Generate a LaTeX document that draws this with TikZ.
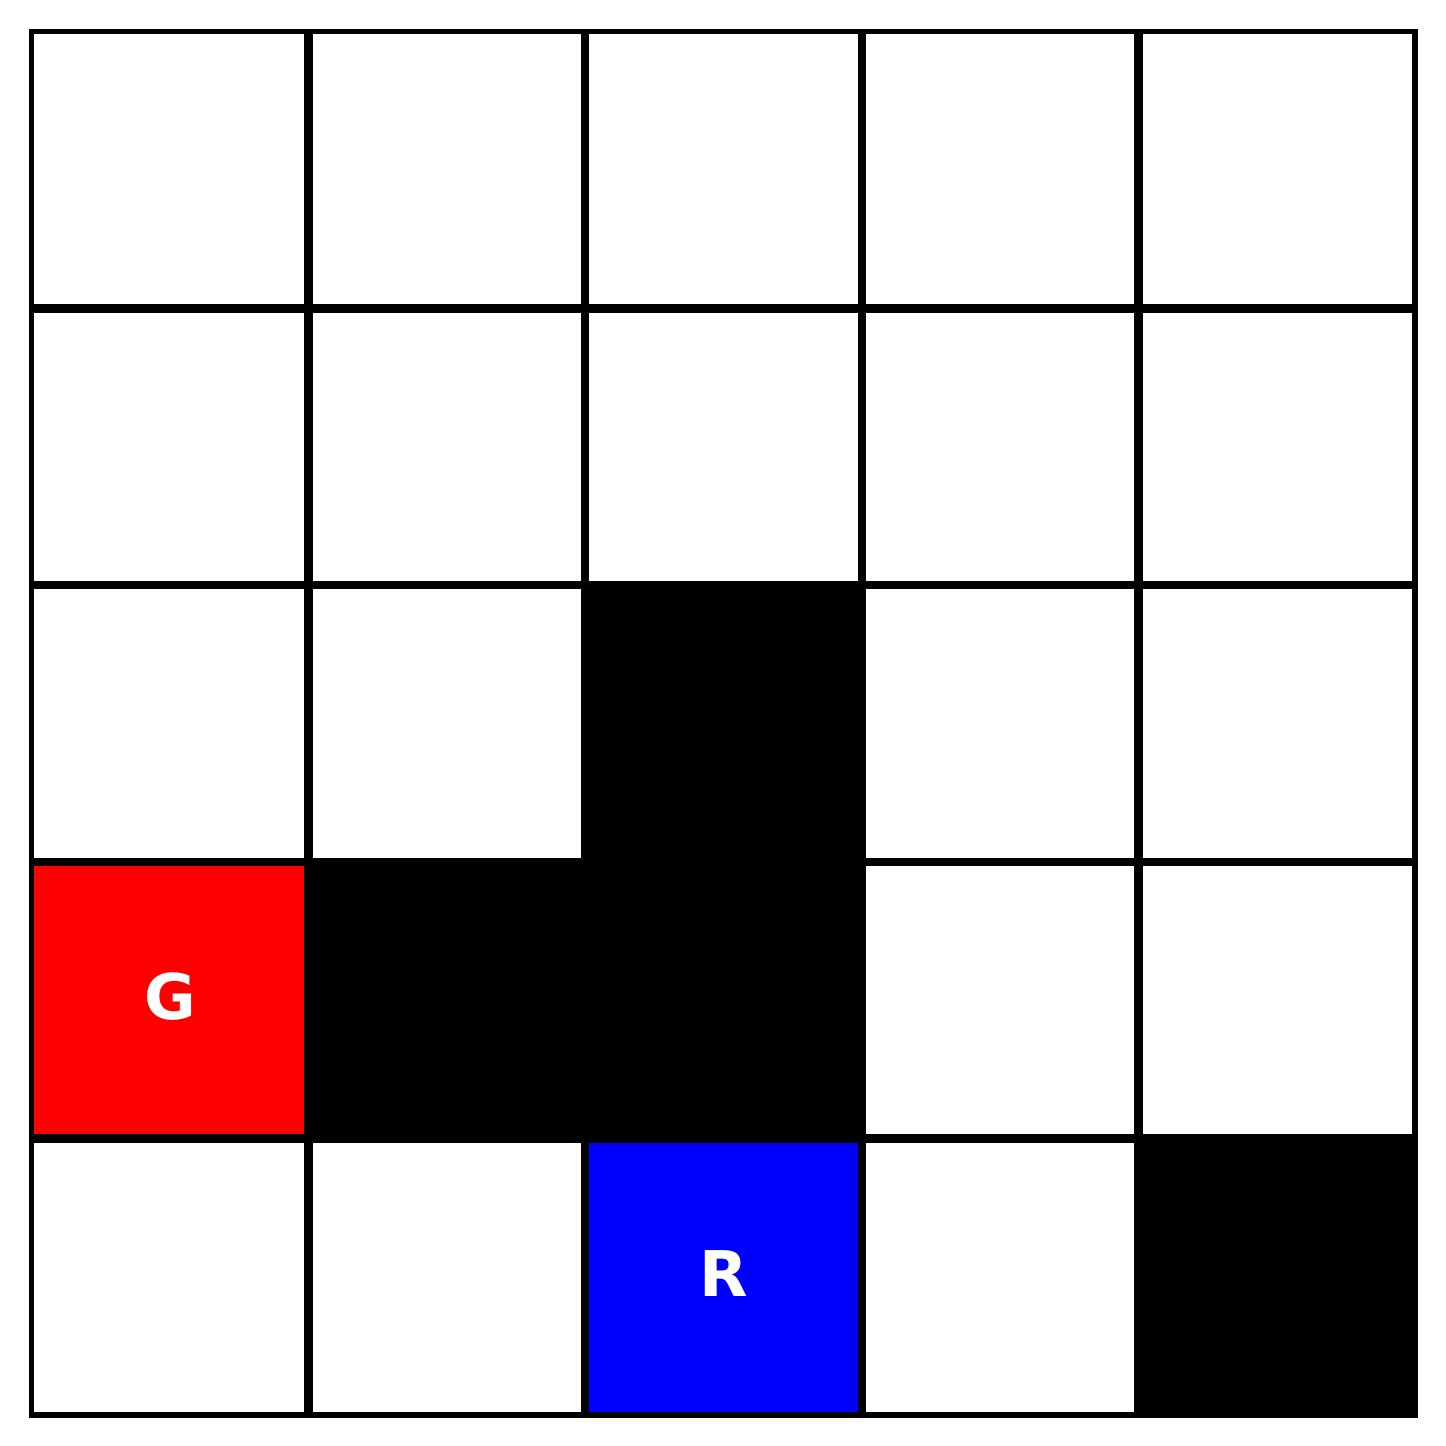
\documentclass[tikz,border=0pt]{standalone}
\usepackage{fontspec}
\setmainfont{DejaVu Sans}
\begin{document}
\begin{tikzpicture}[x=0.5pt,y=-0.5pt,
  innerline/.style={line width=4.2pt,draw=black},
  outerline/.style={line width=2.8pt,draw=black,line join=miter},
  wall/.style={fill=black},
  goal/.style={fill=red},
  robot/.style={fill=blue},
  lbl/.style={text=white,font=\fontsize{31.5pt}{31.5pt}\selectfont\bfseries,inner sep=0pt}]
\useasboundingbox (0,0) rectangle (1446,1446);
\fill[white] (0,0) rectangle (1446,1446);
\def\xo{31.6}\def\st{276.7}
\fill[goal] ({\xo+0*\st},{\xo+3*\st}) rectangle ({\xo+1*\st},{\xo+4*\st});
\fill[robot] ({\xo+2*\st},{\xo+4*\st}) rectangle ({\xo+3*\st},{\xo+5*\st});
\fill[wall] ({\xo+2*\st},{\xo+2*\st}) rectangle ({\xo+3*\st},{\xo+3*\st});
\fill[wall] ({\xo+1*\st},{\xo+3*\st}) rectangle ({\xo+2*\st},{\xo+4*\st});
\fill[wall] ({\xo+2*\st},{\xo+3*\st}) rectangle ({\xo+3*\st},{\xo+4*\st});
\fill[wall] ({\xo+4*\st},{\xo+4*\st}) rectangle ({\xo+5*\st},{\xo+5*\st});
\foreach \i in {1,...,4}{
  \draw[innerline] ({\xo+\st*\i},\xo) -- ({\xo+\st*\i},{\xo+5*\st});
  \draw[innerline] (\xo,{\xo+\st*\i}) -- ({\xo+5*\st},{\xo+\st*\i});
}
\draw[outerline] (\xo,\xo) rectangle ({\xo+5*\st},{\xo+5*\st});
\node[lbl] (G) at ({\xo+0.5*\st},{\xo+3.5*\st-3}) {G};
\node[lbl] (R) at ({\xo+2.5*\st},{\xo+4.5*\st-3}) {R};
\end{tikzpicture}
\end{document}
